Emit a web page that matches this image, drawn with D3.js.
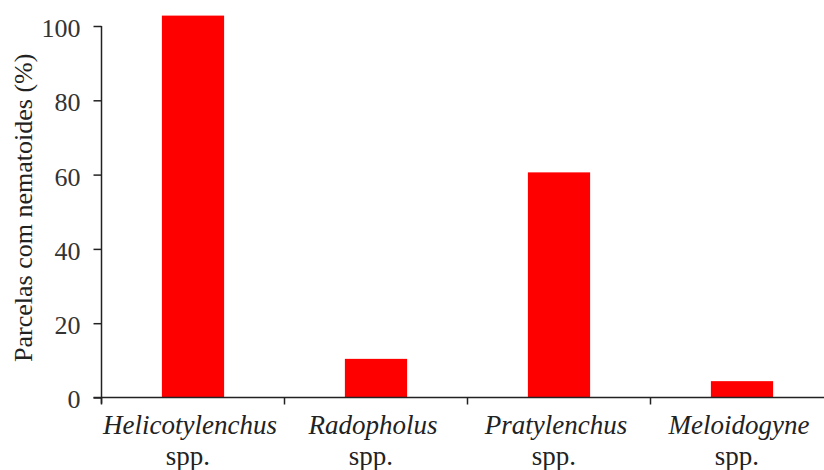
<!DOCTYPE html>
<html>
<head>
<meta charset="utf-8">
<script src="https://cdn.jsdelivr.net/npm/d3@7"></script>
<style>
  html, body { margin: 0; padding: 0; background: #fff; }
  svg { display: block; }
</style>
</head>
<body>
<svg id="chart" width="824" height="470"></svg>
<script>
// ---- data ----
const genera = ["Helicotylenchus", "Radopholus", "Pratylenchus", "Meloidogyne"];
const suffix = ["spp.", "spp.", "spp.", "spp."];
const values = [102.8, 10.4, 60.6, 4.4];
const yTicks = [0, 20, 40, 60, 80, 100];
const yTitle = "Parcelas com nematoides (%)";

// ---- layout ----
(function () {
const svg = d3.select("#chart");
const plotLeft = 101.5, plotBottom = 397.5, plotTop = 26;
const step = 183;
const font = "'Liberation Serif', 'Times New Roman', serif";

const x = d3.scaleBand().domain(genera).range([plotLeft, plotLeft + step * genera.length]).padding(0);
const y = d3.scaleLinear().domain([0, 100]).range([plotBottom, plotTop]);

const barW = x.bandwidth() * 0.34;

// bars
svg.append("g").selectAll("rect")
  .data(genera.map((g, i) => ({ g, v: values[i] })))
  .join("rect")
  .attr("x", d => x(d.g) + (x.bandwidth() - barW) / 2)
  .attr("width", barW)
  .attr("y", d => y(d.v))
  .attr("height", d => y(0) - y(d.v))
  .attr("fill", "#ff0000");

// y axis
const yAxis = d3.axisLeft(y).tickValues(yTicks).tickSize(8).tickPadding(13).tickFormat(d3.format("d"));
const yg = svg.append("g").attr("transform", `translate(${plotLeft},0)`).call(yAxis);
yg.select(".domain").remove();
yg.selectAll(".tick line").attr("stroke", "#222").attr("stroke-width", 1.5);
yg.selectAll(".tick text")
  .attr("font-family", font).attr("font-size", 26).attr("fill", "#333")
  .attr("dy", "0.4em");
yg.append("line").attr("x1", 0).attr("x2", 0).attr("y1", plotTop).attr("y2", plotBottom + 6)
  .attr("stroke", "#222").attr("stroke-width", 1.5);

// x axis: boundary ticks
const boundaries = genera.map(g => x(g)).concat([x(genera[genera.length - 1]) + x.step()]);
const xg = svg.append("g");
xg.append("line").attr("x1", plotLeft - 8).attr("x2", 824).attr("y1", plotBottom).attr("y2", plotBottom)
  .attr("stroke", "#222").attr("stroke-width", 1.5);
xg.selectAll("line.tk").data(boundaries).join("line").attr("class", "tk")
  .attr("x1", d => d).attr("x2", d => d).attr("y1", plotBottom).attr("y2", plotBottom + 7)
  .attr("stroke", "#222").attr("stroke-width", 1.5);

// x labels
const lab = svg.append("g").attr("font-family", font).attr("font-size", 27).attr("fill", "#222")
  .attr("text-anchor", "middle");
lab.selectAll("text.g").data(genera).join("text").attr("class", "g")
  .attr("x", d => x(d) + x.bandwidth() / 2 - 3).attr("y", 434)
  .attr("font-style", "italic").text(d => d);
lab.selectAll("text.s").data(genera).join("text").attr("class", "s")
  .attr("x", d => x(d) + x.bandwidth() / 2 - 5).attr("y", 465)
  .text((d, i) => suffix[i]);

// y title
svg.append("text")
  .attr("transform", `translate(32,${(plotTop + plotBottom) / 2 - 4}) rotate(-90)`)
  .attr("text-anchor", "middle")
  .attr("font-family", font).attr("font-size", 26).attr("fill", "#222")
  .text(yTitle);
})();
</script>
</body>
</html>
